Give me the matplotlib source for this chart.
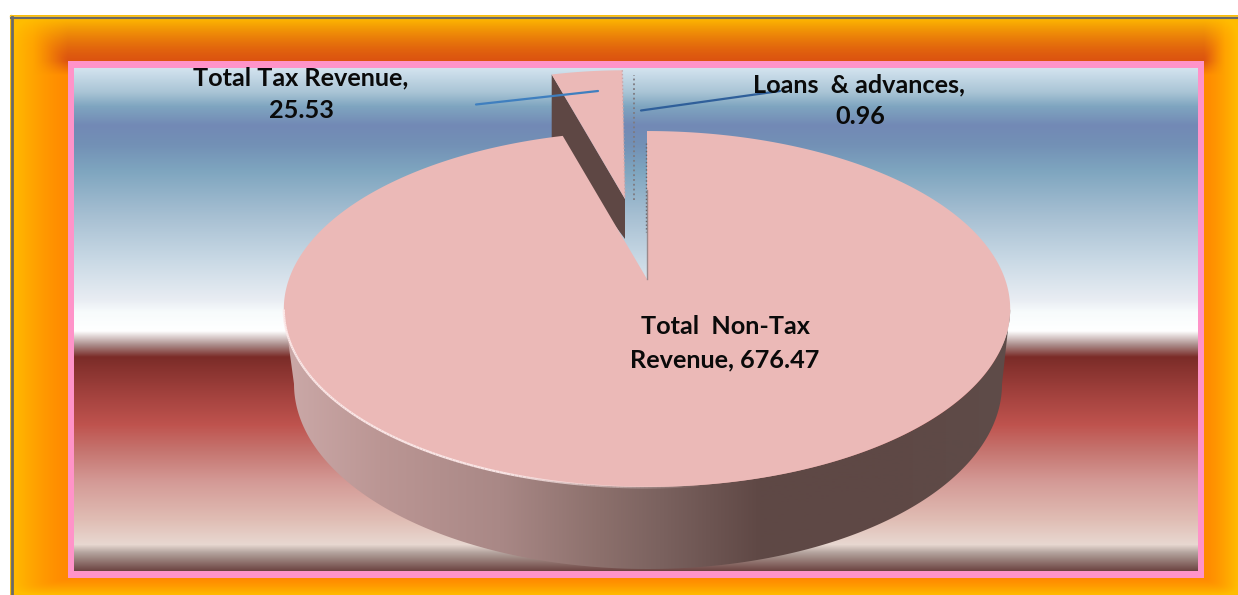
import numpy as np
import matplotlib
matplotlib.use("Agg")
import matplotlib.pyplot as plt
from matplotlib.colors import to_rgb
from matplotlib.collections import LineCollection
from matplotlib.patches import Polygon, Rectangle

categories = ["Total Non-Tax Revenue", "Total Tax Revenue", "Loans & advances"]
values = [676.47, 25.53, 0.96]

total = sum(values)
# the slot in the picture is a bit wider than the true share
slice_stretch = 1.17
non_tax_deg, tax_deg, loans_deg = [v / total * 360 * slice_stretch for v in values]
tax_deg_end = loans_deg + tax_deg

plt.rcParams["font.family"] = ["Lato", "DejaVu Sans"]
plt.rcParams["font.weight"] = "bold"

fig = plt.figure(figsize=(12.38, 5.95), dpi=100)
ax = fig.add_axes([0, 0, 1, 1])
ax.set_axis_off()


def gradient(stops, n):
    pos = [s[0] for s in stops]
    cols = np.array([to_rgb(s[1]) for s in stops])
    grid = np.linspace(pos[0], pos[-1], n)
    return np.stack([np.interp(grid, pos, cols[:, i]) for i in range(3)], axis=-1)


# orange picture frame, rounded contours towards the corners
yy, xx = np.mgrid[15:595, 10:1238] + 0.5
d_left = np.clip((68 - xx) / 56, 0, None)
d_top = np.clip((61 - yy) / 44, 0, None)
d_right = np.clip((xx - 1204) / 34, 0, None)
d_bottom = np.clip((yy - 578) / 17, 0, None)
dist = np.clip((d_left ** 4 + d_top ** 4 + d_right ** 4 + d_bottom ** 4) ** 0.25, 0, 1)
top_side = np.clip((75 - yy) / 14, 0, 1) * np.clip(1 - 1.6 * np.maximum(d_left, d_right), 0, 1)
edge = np.array(to_rgb("#ffbc00"))
near_side = np.array(to_rgb("#ff8a00"))
near_top = np.array(to_rgb("#dc5410"))
near = near_side + (near_top - near_side) * top_side[..., None]
frame = near + (edge - near) * (dist ** 1.4)[..., None]
ax.imshow(frame, extent=[10, 1238, 595, 15], aspect="auto", zorder=1)
ax.plot([10.5, 10.5], [15, 595], color="#f2c230", lw=1, zorder=2)
ax.plot([10, 1238], [15.5, 15.5], color="#f2c230", lw=1, zorder=2)
ax.plot([12, 12], [17, 595], color="#6a6a68", lw=2, zorder=2)
ax.plot([11, 1238], [17.5, 17.5], color="#6a6a68", lw=1.5, zorder=2)

# pink border and banded plot background
ax.add_patch(Rectangle((68, 61), 1136, 517, facecolor="#ff93c9", edgecolor="none", zorder=3))
bg_stops = [(68, "#d3e3ef"), (92, "#a9c4d5"), (106, "#7fa5c0"), (125, "#7289b5"),
            (145, "#7391b6"), (170, "#7ea5bf"), (215, "#a6bfd2"), (260, "#c9d9e5"),
            (300, "#e9edf3"), (312, "#f7fbfc"), (331, "#ffffff"), (345, "#ab8c8a"),
            (357, "#7b2c28"), (395, "#a3423e"), (425, "#bf534e"), (450, "#c5736e"),
            (482, "#d49a96"), (520, "#e0bdb4"), (545, "#e8d8d1"), (553, "#b4a49e"),
            (571, "#6e4643")]
bg = gradient(bg_stops, 503)[:, None, :]
ax.imshow(bg, extent=[74, 1198, 571, 68], aspect="auto", zorder=4)

# pie geometry, circle seen through a perspective
cx, apex_y = 647, 279
persp = 0.1685
size_x = 358
size_y_a = -125.9


def project(theta_deg, scale=1.0, apex=(cx, apex_y)):
    # theta clockwise from twelve o'clock
    t = np.radians(theta_deg)
    u, v = np.sin(t), np.cos(t)
    w = 1 + persp * v
    x = size_x * u / w
    y = (size_y_a * v + apex_y) / w - apex_y
    return apex[0] + x * scale, apex[1] + y * scale


# 3d side of the pie
front = np.linspace(90 + 9.7, 270 - 9.7, 240)
fx, fy = project(front)
low = np.linspace(-np.pi / 2, np.pi / 2, 240)
bx = 648 + 354 * np.sin(low)
by = 384 + 185 * np.cos(low)
side_xy = np.vstack([np.c_[fx[::-1], fy[::-1]], np.c_[bx[::-1], by[::-1]]])
side_stops = [(283, "#cba9a8"), (380, "#bb9694"), (500, "#a98886"), (600, "#8c706c"),
              (660, "#7b625f"), (760, "#5f4845"), (880, "#5e4845"), (1012, "#5e4c49")]
side = gradient(side_stops, 730)[None, :, :]
side_im = ax.imshow(side, extent=[283, 1012, 575, 290], aspect="auto", zorder=5)
side_patch = Polygon(side_xy, closed=True, facecolor="none", edgecolor="none", zorder=5)
ax.add_patch(side_patch)
side_im.set_clip_path(side_patch)

pink = "#ebb9b7"
dark = "#5e4744"

# exploded tax slice, its inner wall goes behind the main slice
tax_apex = (625, 199)
tax_theta = np.linspace(360 - tax_deg_end, 360 - loans_deg, 12)
tx, ty = project(tax_theta, scale=0.87, apex=tax_apex)
wall = [(tx[0], ty[0]), tax_apex, (tax_apex[0], tax_apex[1] + 40), (tx[0], ty[0] + 66)]
ax.add_patch(Polygon(wall, closed=True, facecolor=dark, edgecolor="none", zorder=6))
tax_xy = np.vstack([[tax_apex], np.c_[tx, ty]])
ax.add_patch(Polygon(tax_xy, closed=True, facecolor=pink, edgecolor="none", zorder=7))
ax.plot([tx[-1], tax_apex[0]], [ty[-1], tax_apex[1]], color="#c9a5a8", lw=1, ls=":", zorder=7)

# main slice
main_theta = np.linspace(0, 360 - tax_deg_end, 500)
mx, my = project(main_theta)
main_xy = np.vstack([[(cx, apex_y)], np.c_[mx, my]])
ax.add_patch(Polygon(main_xy, closed=True, facecolor=pink, edgecolor="none", zorder=8))
ax.plot([cx, cx], [190, apex_y], color="#9a8a8c", lw=1, zorder=9)
ax.plot([cx - 1.5, cx - 1.5], [143, 232], color="#6b6468", lw=1, ls=":", zorder=9)

# loans slice is only a sliver
lx, ly = project(360 - loans_deg, scale=0.87, apex=(633.5, 200))
ax.plot([633.5, 633.5], [200, ly + 4], color="#7d7a80", lw=1.3, ls=":", zorder=7)

# light rim along the front left edge
rim = np.linspace(270 - 9.7, 172, 160)
rx_, ry_ = project(rim)
pts = np.c_[rx_, ry_ + 0.5]
segs = np.stack([pts[:-1], pts[1:]], axis=1)
fade = np.ones(len(segs))
fade[-50:] = np.linspace(1, 0, 50)
rim_cols = np.zeros((len(segs), 4))
rim_cols[:, :3] = to_rgb("#fdeaea")
rim_cols[:, 3] = fade * 0.95
ax.add_collection(LineCollection(segs, colors=rim_cols, linewidths=1.6, zorder=9))

# leader lines
ax.plot([476, 598], [104.5, 91], color="#3f7fbf", lw=1.6, zorder=10, solid_capstyle="round")
ax.plot([641, 780], [110.5, 91], color="#2f5f9a", lw=1.6, zorder=10, solid_capstyle="round")

# labels
fs = 18.2
ink = "#0a0a0a"
ax.text(300.5, 78, f"{categories[1]},", ha="center", va="center", fontsize=fs, color=ink, zorder=11)
ax.text(301, 110, f"{values[1]:.2f}", ha="center", va="center", fontsize=fs, color=ink, zorder=11)
ax.text(859, 85, categories[2].replace(" & ", "  & ") + ",", ha="center", va="center", fontsize=fs, color=ink, zorder=11)
ax.text(860, 116, f"{values[2]:.2f}", ha="center", va="center", fontsize=fs, color=ink, zorder=11)
ax.text(725, 327, categories[0].replace(" Revenue", "").replace("Total ", "Total  "), ha="center", va="center", fontsize=fs, color=ink, zorder=11)
ax.text(725, 360, f"Revenue, {values[0]:.2f}", ha="center", va="center", fontsize=fs, color=ink, zorder=11)

ax.set_xlim(0, 1238)
ax.set_ylim(595, 0)
fig.savefig("out.png", dpi=100, facecolor="white")
